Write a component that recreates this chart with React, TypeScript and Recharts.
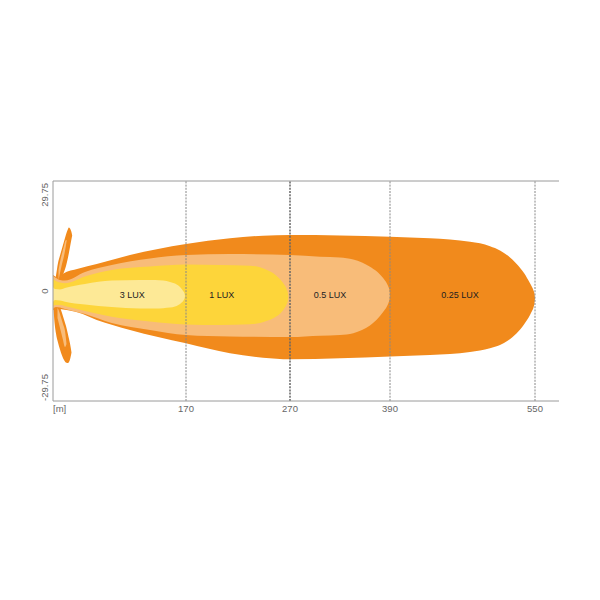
import React from 'react';
import { ComposedChart, Area, XAxis, YAxis, ReferenceLine, ReferenceDot } from 'recharts';

// Beam diagram: x is a diagram position along the beam (the axis is not drawn to scale,
// the tick labels carry the metre values); y is the lateral spread in metres.
const xTickPos = [0, 133, 237, 337, 482];
const xTickLabels = ['[m]', '170', '270', '390', '550'];
const yTicks = [-29.75, 0, 29.75];
const gridPos = [133, 237, 337, 482];

const lux025X = [0, 3, 7, 10, 25, 43.7, 77, 133, 177, 210, 237, 337, 377, 397, 417, 427, 437, 447, 455, 463.7, 471, 477, 479, 480.5, 481.6, 482];
const lux025Hi = [4.33, 3.79, 3.52, 4.68, 6.03, 7.3, 9.74, 12.71, 14.25, 14.96, 15.15, 14.69, 14.25, 13.93, 13.34, 12.9, 12.09, 10.95, 9.52, 7.3, 4.87, 2.08, 1.08, 0.14, -0.87, -1.89];
const lux025Lo = [-5.14, -4.87, -4.87, -5.0, -5.82, -7.84, -10.55, -14.15, -16.85, -18.04, -18.47, -17.72, -17.31, -17.04, -16.5, -16.09, -15.47, -14.61, -13.39, -11.44, -9.06, -6.49, -5.41, -4.46, -3.11, -1.89];

const lux05X = [0, 3, 7, 12, 32, 58.7, 97, 133, 177, 237, 267, 287, 300.3, 309, 317, 330.3, 334, 335.5, 336.6, 337];
const lux05Hi = [4.06, 3.52, 2.98, 2.84, 5.14, 7.03, 8.79, 9.74, 10.01, 9.74, 9.28, 9.06, 8.52, 7.71, 6.57, 3.44, 1.95, 1.05, 0.03, -1.08];
const lux05Lo = [-4.87, -4.33, -4.46, -4.87, -6.22, -8.66, -10.55, -11.9, -12.31, -12.44, -12.09, -11.9, -11.41, -10.55, -9.33, -5.6, -4.11, -3.22, -2.19, -1.08];

const lux1X = [0, 2, 7, 12, 32, 58.7, 97, 133, 167, 197, 207, 214, 220.3, 230.3, 232.3, 233.8, 234.9, 235.3];
const lux1Hi = [3.25, 2.84, 2.3, 2.08, 3.92, 5.68, 6.63, 7.17, 7.03, 6.82, 6.44, 5.68, 4.79, 2.08, 1.27, 0.43, -0.51, -1.54];
const lux1Lo = [-4.33, -3.79, -3.79, -4.06, -5.41, -6.95, -8.25, -9.06, -9.2, -9.01, -8.66, -8.06, -7.38, -5.14, -4.35, -3.52, -2.57, -1.54];

const lux3X = [0, 2, 7, 12, 32, 58.7, 87, 102, 110.3, 117, 122, 128.7, 130.5, 131.6, 132];
const lux3Hi = [1.08, 0.54, 0.41, 0.81, 1.89, 2.84, 2.98, 2.98, 2.81, 2.43, 2.0, 0.54, -0.16, -0.73, -1.35];
const lux3Lo = [-2.98, -2.43, -2.57, -2.89, -3.65, -4.33, -4.73, -4.73, -4.65, -4.49, -4.22, -3.11, -2.54, -1.97, -1.35];

const petalUpX = [0, 1, 3, 5, 7, 9, 11, 13, 15, 15.8, 17, 18.3, 19.2];
const petalUpHi = [1.08, 1.89, 4.19, 7.57, 9.6, 11.5, 13.39, 15.28, 16.77, 17.18, 16.91, 16.09, 15.01];
const petalUpLo = [-0.27, -0.27, 0.27, 1.62, 2.98, 3.92, 5.14, 6.76, 9.06, 10.14, 11.9, 13.79, 15.01];

const petalDownX = [0, 1, 3, 5, 7, 9, 11, 13, 15, 17, 18.5];
const petalDownHi = [-1.35, -1.62, -2.16, -2.98, -4.33, -5.95, -7.71, -9.47, -11.77, -14.2, -16.64];
const petalDownLo = [-2.43, -6.76, -11.5, -13.93, -15.82, -17.45, -18.66, -19.34, -19.48, -18.53, -16.64];

const stripeUpX = [5.5, 7, 9, 11, 12.5, 13.8];
const stripeUpHi = [5.68, 7.84, 10.14, 12.17, 13.66, 13.8];
const stripeUpLo = [2.98, 4.87, 7.3, 9.47, 11.63, 13.8];

const stripeDownX = [4.5, 6, 8, 10, 12, 13.5];
const stripeDownHi = [-4.6, -5.41, -7.17, -8.93, -10.82, -14.34];
const stripeDownLo = [-7.3, -8.93, -11.09, -13.25, -15.15, -14.34];

const luxLabels = ['3 LUX', '1 LUX', '0.5 LUX', '0.25 LUX'];
const luxLabelX = [79.3, 168.7, 277, 407];
const luxLabelY = [-1.08, -1.08, -1.08, -1.08];

const C_DARK = '#F18A1C';
const C_LIGHT = '#F8BC79';
const C_YELLOW = '#FDD53A';
const C_PALE = '#FDE996';
const AXIS = '#9a9a9a';
const FONT = '"Liberation Sans", Arial, Helvetica, sans-serif';

const zip = (xs: number[], lo: number[], hi: number[]) => xs.map((u, i) => ({ u, r: [lo[i], hi[i]] }));

const XTick = (props: any) => {
  const { x, y, payload } = props;
  const idx = xTickPos.indexOf(payload.value);
  return (
    <text x={x} y={y - 1} dy="0.71em" textAnchor={idx === 0 ? 'start' : 'middle'} fontSize={9.5} fill="#666" fontFamily={FONT}>
      {xTickLabels[idx]}
    </text>
  );
};

const YTick = (props: any) => {
  const { x, y, payload } = props;
  const v = payload.value;
  const anchor = v > 0 ? 'end' : v < 0 ? 'start' : 'middle';
  const yy = v > 0 ? y + 2 : y;
  return (
    <text x={x} y={yy} transform={`rotate(-90, ${x}, ${yy})`} textAnchor={anchor} fontSize={9.5} fill="#666" fontFamily={FONT}>
      {String(v)}
    </text>
  );
};

const area = (key: string, xs: number[], lo: number[], hi: number[], color: string) => (
  <Area
    key={key}
    data={zip(xs, lo, hi)}
    dataKey="r"
    type="monotone"
    fill={color}
    fillOpacity={1}
    stroke="none"
    dot={false}
    activeDot={false}
    isAnimationActive={false}
  />
);

export default function App() {
  return (
    <div style={{ margin: '-8px', width: 600, height: 600, background: '#fff' }}>
      <ComposedChart width={600} height={600} margin={{ top: 181, right: 41, bottom: 169, left: 13 }}>
        <XAxis
          type="number"
          dataKey="u"
          domain={[0, 506]}
          ticks={xTickPos}
          tick={<XTick />}
          tickLine={false}
          tickSize={0}
          tickMargin={5}
          axisLine={{ stroke: AXIS }}
          allowDataOverflow
          height={30}
          interval={0}
        />
        <YAxis
          type="number"
          domain={[-29.75, 29.75]}
          ticks={yTicks}
          tick={<YTick />}
          tickLine={false}
          tickSize={0}
          tickMargin={5}
          axisLine={{ stroke: AXIS }}
          allowDataOverflow
          width={40}
          interval={0}
        />
        {area('o', lux025X, lux025Lo, lux025Hi, C_DARK)}
        {area('pu', petalUpX, petalUpLo, petalUpHi, C_DARK)}
        {area('pd', petalDownX, petalDownLo, petalDownHi, C_DARK)}
        {area('su', stripeUpX, stripeUpLo, stripeUpHi, C_LIGHT)}
        {area('sd', stripeDownX, stripeDownLo, stripeDownHi, C_LIGHT)}
        {area('l', lux05X, lux05Lo, lux05Hi, C_LIGHT)}
        {area('y', lux1X, lux1Lo, lux1Hi, C_YELLOW)}
        {area('p', lux3X, lux3Lo, lux3Hi, C_PALE)}
        <ReferenceLine y={29.75} stroke={AXIS} strokeWidth={1} />
        {gridPos.map((g, i) => (
          <ReferenceLine
            key={'g' + i}
            x={g}
            stroke={i === 1 ? '#666' : '#888'}
            strokeWidth={i === 1 ? 1.5 : 1}
            strokeDasharray="2 1.2"
          />
        ))}
        {luxLabels.map((t, i) => (
          <ReferenceDot
            key={'lab' + i}
            x={luxLabelX[i]}
            y={luxLabelY[i]}
            r={0}
            fill="none"
            stroke="none"
            label={{ value: t, position: 'center', fontSize: 9, fill: '#222', fontFamily: FONT }}
          />
        ))}
      </ComposedChart>
    </div>
  );
}
